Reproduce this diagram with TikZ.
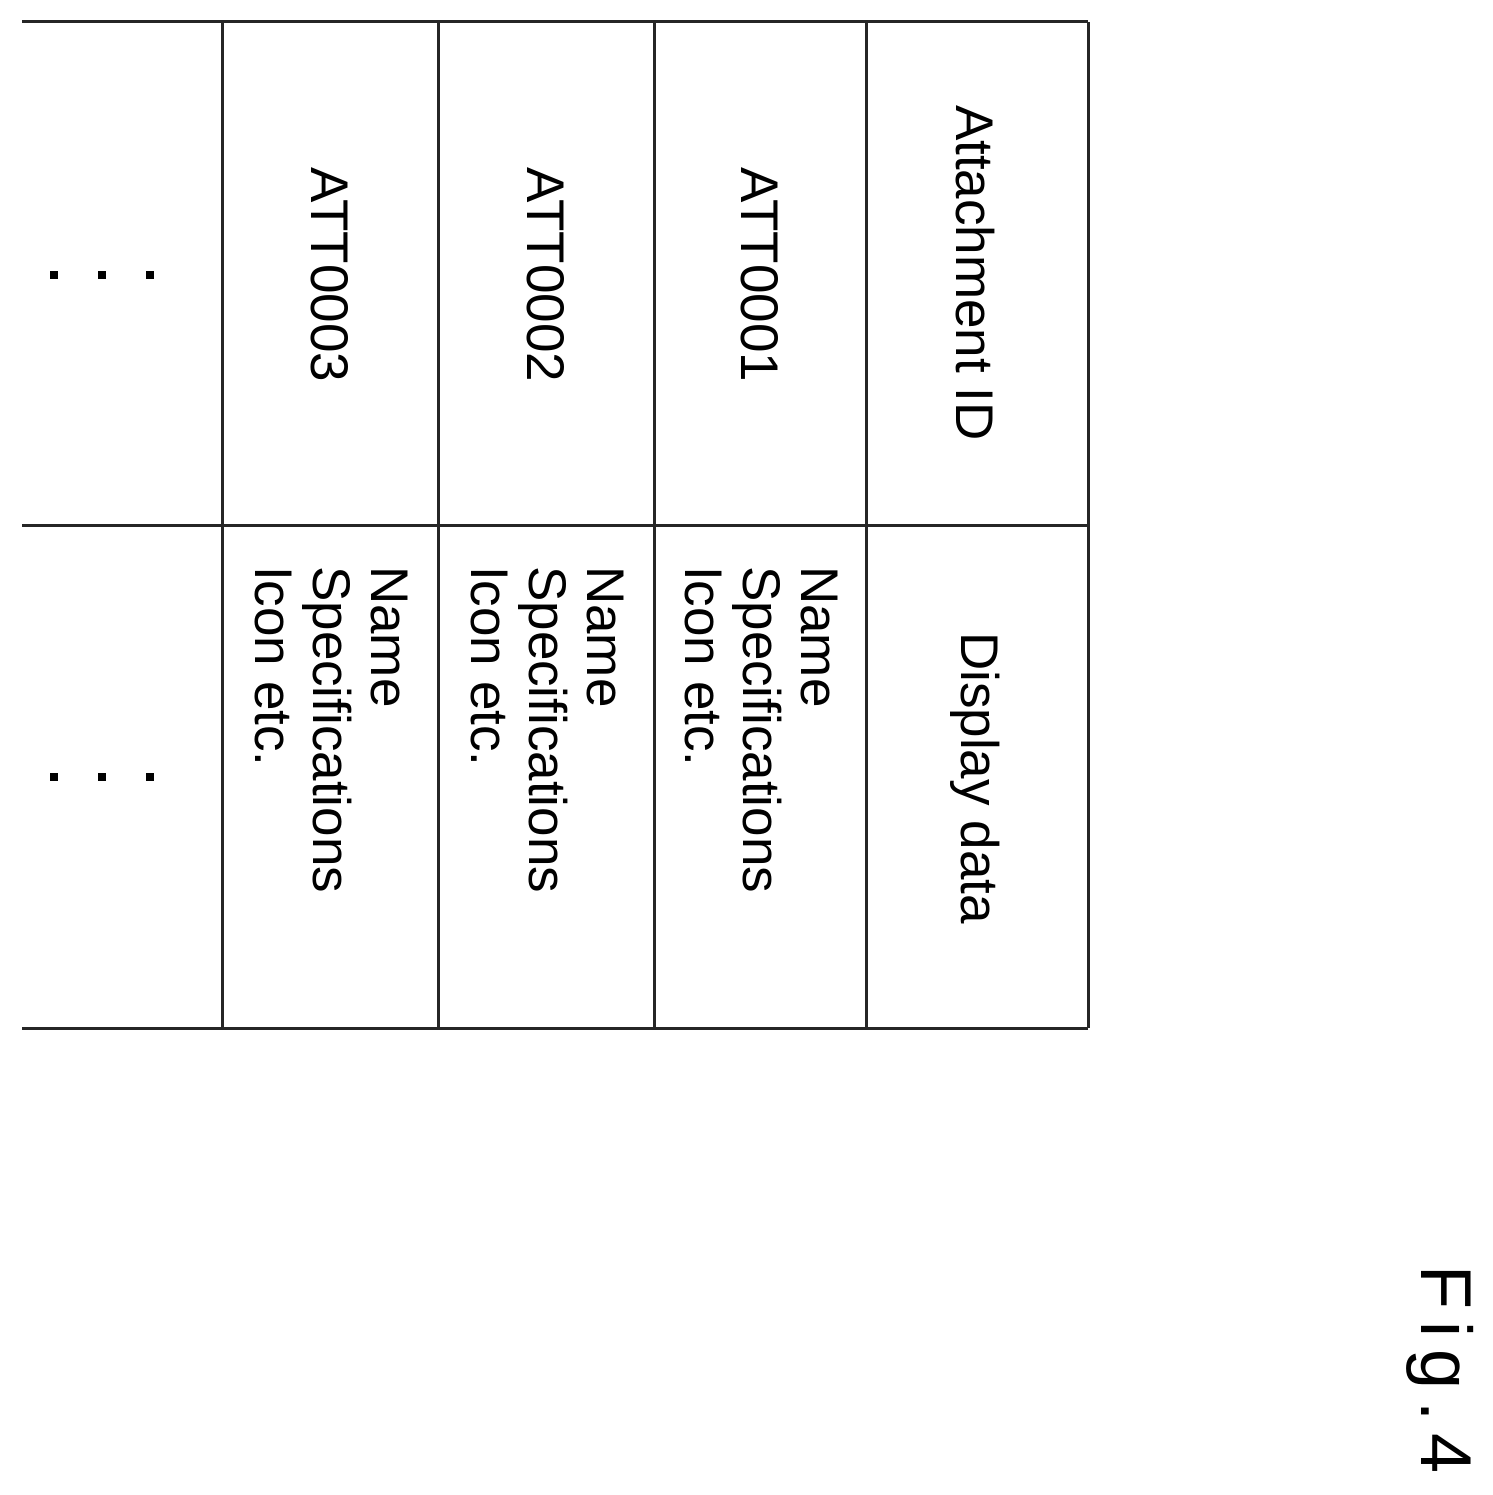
\documentclass[tikz,border=0pt]{standalone}
\usepackage{fontspec}
\setmainfont{Liberation Sans}
\begin{document}
\begin{tikzpicture}[x=1pt,y=-1pt,
  grid/.style={line width=3pt,black!85},
  cell/.style={rotate=-90,inner sep=0pt,font=\fontsize{53}{58}\selectfont},
  multi/.style={cell,align=left,anchor=north west},
  dot/.style={fill=black,inner sep=0pt,minimum size=8pt}]
\useasboundingbox (0,0) rectangle (1492,1495);
\foreach \y in {22,525,1028} \draw[grid] (22,\y) -- (1088,\y);
\foreach \x in {222,438,654,866,1088} \draw[grid] (\x,22) -- (\x,1028);
\node[cell] (h1) at (975,273) {Attachment ID};
\node[cell] (h2) at (975,778) {Display data};
\node[cell] (a1) at (760,275) {ATT0001};
\node[cell] (a2) at (546,275) {ATT0002};
\node[cell] (a3) at (330,275) {ATT0003};
\node[multi] (d1) at (838,566) {Name\\Specifications\\Icon etc.};
\node[multi] (d2) at (624,566) {Name\\Specifications\\Icon etc.};
\node[multi] (d3) at (408,566) {Name\\Specifications\\Icon etc.};
\foreach \x in {54,102,150} {
  \node[dot] at (\x,275) {};
  \node[dot] at (\x,777) {};
}
\node[rotate=-90,inner sep=0pt,font=\fontsize{72}{80}\selectfont] (fig) at (1440,1370) {F\,i\,g\,.\,4};
\end{tikzpicture}
\end{document}
